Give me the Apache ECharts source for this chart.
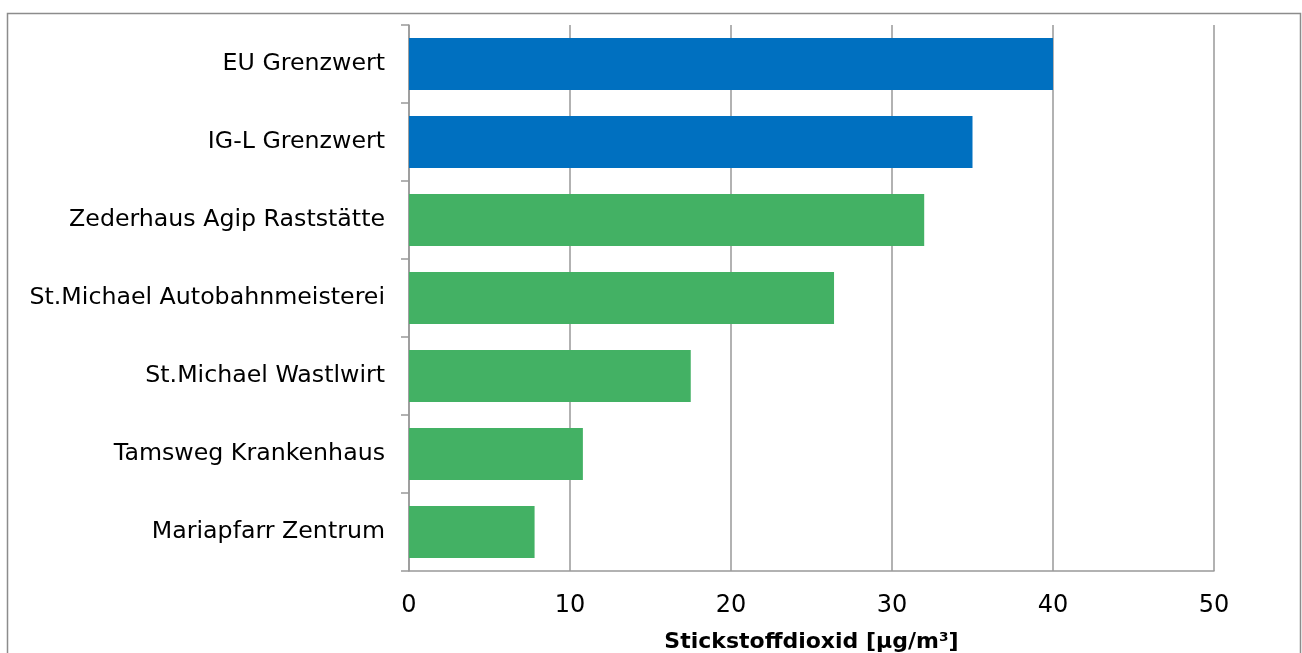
<!DOCTYPE html>
<html>
<head>
<meta charset="utf-8">
<script src="https://cdn.jsdelivr.net/npm/echarts@6/dist/echarts.min.js"></script>
<style>
  html, body { margin: 0; padding: 0; background: #fff; }
  #chart { width: 1302px; height: 653px; }
</style>
</head>
<body>
<div id="chart"></div>
<script>
// Messstellen (von oben nach unten) und Jahresmittelwerte NO2 in µg/m³
const categories = [
  'EU Grenzwert',
  'IG-L Grenzwert',
  'Zederhaus Agip Raststätte',
  'St.Michael Autobahnmeisterei',
  'St.Michael Wastlwirt',
  'Tamsweg Krankenhaus',
  'Mariapfarr Zentrum'
];
const values = [40, 35, 32, 26.4, 17.5, 10.8, 7.8];
// Grenzwerte blau, Messstellen grün
const isLimit = [true, true, false, false, false, false, false];
const xTicks = [0, 10, 20, 30, 40, 50];
const axisTitle = 'Stickstoffdioxid [µg/m³]';

const BLUE = '#0070C0';
const GREEN = '#43B164';
const GRID = '#999999';
const FONT = '"DejaVu Sans", Verdana, sans-serif';

const chart = echarts.init(document.getElementById('chart'), null, { renderer: 'canvas' });

chart.setOption({
  animation: false,
  backgroundColor: '#ffffff',
  graphic: [{
    type: 'rect',
    silent: true,
    shape: { x: 7.5, y: 13.5, width: 1293, height: 700 },
    style: { fill: 'none', stroke: '#8c8c8c', lineWidth: 1.5 }
  }],
  grid: {
    left: 409, right: 88, top: 25, bottom: 82,
    containLabel: false,
    outerBoundsMode: 'none'
  },
  xAxis: {
    type: 'value',
    min: xTicks[0],
    max: xTicks[xTicks.length - 1],
    interval: xTicks[1] - xTicks[0],
    name: axisTitle,
    nameLocation: 'middle',
    nameGap: 60,
    nameTextStyle: { fontFamily: FONT, fontSize: 22, fontWeight: 'bold', color: '#000' },
    axisLine: { show: true, lineStyle: { color: GRID, width: 1.5 } },
    axisTick: { show: false },
    axisLabel: { fontFamily: FONT, fontSize: 24, color: '#000', margin: 23 },
    splitLine: { show: true, lineStyle: { color: GRID, width: 1.5 } }
  },
  yAxis: {
    type: 'category',
    data: categories,
    inverse: true,
    boundaryGap: true,
    axisLine: { show: true, lineStyle: { color: GRID, width: 1.5 } },
    axisTick: { show: true, length: 8, lineStyle: { color: GRID, width: 1.5 } },
    axisLabel: { fontFamily: FONT, fontSize: 23.7, color: '#000', margin: 24 },
    splitLine: { show: false }
  },
  series: [{
    type: 'bar',
    barWidth: 52,
    data: values.map((v, i) => ({
      value: v,
      itemStyle: { color: isLimit[i] ? BLUE : GREEN }
    })),
    z: 1
  }]
});
</script>
</body>
</html>
